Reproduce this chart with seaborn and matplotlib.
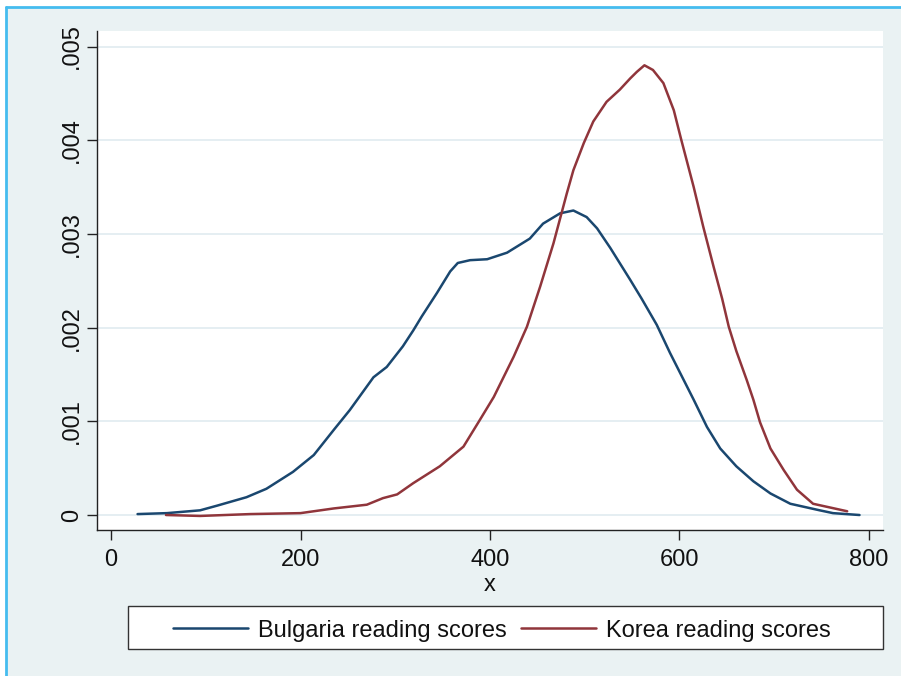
import matplotlib
matplotlib.use("Agg")
import matplotlib.pyplot as plt
import seaborn as sns
import pandas as pd
from matplotlib.patches import Rectangle
from matplotlib.lines import Line2D

# ---- data ----
bulgaria_x = [28, 59, 94, 112, 143, 164, 192, 214, 236, 252, 277, 291, 308, 319, 328,
              344, 358, 366, 379, 397, 409, 418, 442, 456, 474, 488, 502, 513, 527,
              548, 560, 576, 590, 601, 615, 629, 643, 660, 678, 696, 717, 748, 762, 790]
bulgaria_y = [0.00001, 0.00002, 0.00005, 0.0001, 0.00019, 0.00028, 0.00046, 0.00064,
              0.00092, 0.00112, 0.00147, 0.00158, 0.0018, 0.00197, 0.00212, 0.00237,
              0.0026, 0.00269, 0.00272, 0.00273, 0.00277, 0.0028, 0.00295, 0.00311,
              0.00322, 0.00325, 0.00318, 0.00306, 0.00285, 0.00251, 0.00231, 0.00203,
              0.00173, 0.00151, 0.00123, 0.00094, 0.00071, 0.00052, 0.00036, 0.00023,
              0.00012, 0.00005, 0.00002, 0.0]
korea_x = [58, 94, 147, 200, 235, 270, 287, 302, 319, 347, 372, 389, 404, 425, 439,
           453, 467, 481, 488, 499, 509, 523, 537, 548, 555, 563, 572, 583, 594, 602,
           615, 625, 636, 645, 652, 660, 671, 678, 685, 696, 710, 724, 741, 777]
korea_y = [0.0, -0.00001, 0.00001, 0.00002, 0.00007, 0.00011, 0.00018, 0.00022, 0.00034,
           0.00052, 0.00073, 0.00101, 0.00126, 0.00169, 0.00201, 0.00244, 0.0029,
           0.00343, 0.00368, 0.00397, 0.0042, 0.00441, 0.00454, 0.00466, 0.00473,
           0.0048, 0.00475, 0.00461, 0.00432, 0.004, 0.0035, 0.00308, 0.00265, 0.00231,
           0.00201, 0.00175, 0.00144, 0.00123, 0.00099, 0.00071, 0.00048, 0.00027,
           0.00012, 0.00004]
series_names = ["Bulgaria reading scores", "Korea reading scores"]
x_ticks = [0, 200, 400, 600, 800]
y_ticks = [0, 0.001, 0.002, 0.003, 0.004, 0.005]
y_tick_labels = ["0", ".001", ".002", ".003", ".004", ".005"]

df = pd.concat([
    pd.DataFrame({"x": bulgaria_x, "density": bulgaria_y, "series": series_names[0]}),
    pd.DataFrame({"x": korea_x, "density": korea_y, "series": series_names[1]}),
], ignore_index=True)

sns.set_theme(style="white")
plt.rcParams["font.family"] = ["Liberation Sans", "DejaVu Sans"]

W, H = 901, 676
FS = 17
fig = plt.figure(figsize=(W / 100, H / 100), dpi=100)
fig.patch.set_facecolor("white")
bg = "#EAF2F3"
fig.patches.append(Rectangle((6 / W, 0), 1 - 6 / W, 1 - 7 / H, transform=fig.transFigure,
                             facecolor=bg, edgecolor="none", zorder=-10))
fig.lines.append(Line2D([6 / W, 1], [1 - 7 / H, 1 - 7 / H], transform=fig.transFigure,
                        color="#45BCEF", lw=2))
fig.lines.append(Line2D([6 / W, 6 / W], [0, 1 - 7 / H], transform=fig.transFigure,
                        color="#45BCEF", lw=2))

ax = fig.add_axes([97 / W, 1 - 530 / H, (883 - 97) / W, (530 - 31) / H])
ax.set_facecolor("white")

palette = {series_names[0]: "#1A476F", series_names[1]: "#90353B"}
sns.lineplot(data=df, x="x", y="density", hue="series", palette=palette, ax=ax,
             lw=1.8, legend=False, estimator=None, sort=True)

ax.set_xlim(-14.8, 814.8)
ax.set_ylim(-0.00016, 0.005166)
ax.set_xticks(x_ticks)
ax.set_xticklabels([str(v) for v in x_ticks])
ax.set_yticks(y_ticks)
ax.set_yticklabels(y_tick_labels, rotation=90, va="center")
ax.yaxis.grid(True, color="#E3EDF1", lw=1.3)
ax.xaxis.grid(False)
ax.set_axisbelow(True)
for s in ["top", "right"]:
    ax.spines[s].set_visible(False)
for s in ["left", "bottom"]:
    ax.spines[s].set_color("#222222")
    ax.spines[s].set_linewidth(1.0)
ax.tick_params(axis="both", which="major", direction="out", length=7, width=1,
               color="#222222", labelsize=FS, labelcolor="#111111", left=True, bottom=True)
ax.tick_params(axis="x", pad=7)
ax.tick_params(axis="y", pad=3)
ax.set_xlabel("x", fontsize=FS, color="#111111", labelpad=2)
ax.set_ylabel("")

# legend box
fig.patches.append(Rectangle((128 / W, 1 - 649 / H), (883 - 128) / W, (649 - 606) / H,
                             transform=fig.transFigure, facecolor="white",
                             edgecolor="#333333", lw=1.0, zorder=5))
handles = [Line2D([], [], color=palette[n], lw=1.8) for n in series_names]
leg = fig.legend(handles, series_names, loc="center",
                 bbox_to_anchor=((128 + 883) / 2 / W - 4 / W, 1 - (606 + 655) / 2 / H),
                 bbox_transform=fig.transFigure, ncol=2, frameon=False,
                 fontsize=FS, handlelength=3.2, handletextpad=0.4, columnspacing=0.6)
leg.set_zorder(6)
for t in leg.get_texts():
    t.set_color("#111111")

fig.savefig("out.png", dpi=100, facecolor=fig.get_facecolor())
